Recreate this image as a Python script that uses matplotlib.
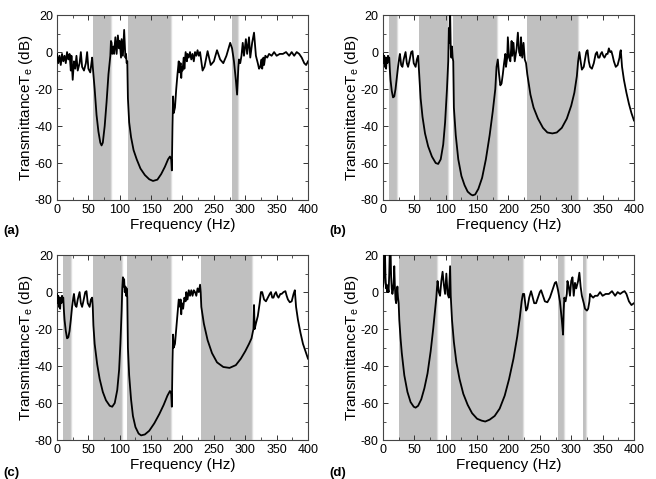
import matplotlib
matplotlib.use('Agg')
import matplotlib.pyplot as plt
from matplotlib.ticker import MultipleLocator

plt.rcParams['font.family'] = ['Liberation Sans', 'DejaVu Sans']
plt.rcParams['mathtext.fontset'] = 'custom'
plt.rcParams['mathtext.rm'] = 'Liberation Sans'
plt.rcParams['axes.unicode_minus'] = False

# band gaps (Hz), read from the shaded regions
bands_a = [(58, 86), (113, 181), (279, 289)]
bands_b = [(10, 22), (58, 103), (112, 181), (229, 311)]
bands_c = [(10, 22), (58, 103), (112, 182), (229, 311)]
bands_d = [(26, 86), (109, 223), (279, 289), (318, 324)]

# transmittance curves (freq Hz, dB)
freq_a = [0, 2, 4, 6, 8, 10, 12, 14, 16, 18, 20, 22, 23, 25, 27, 29, 31, 33, 36, 38, 40, 43, 46, 48,
          50, 53, 56, 57, 60, 63, 66, 69, 71, 73, 76, 79, 82, 85, 86, 87, 88, 90, 91, 93, 95, 97,
          99, 100, 102, 103, 105, 107, 109, 110, 111, 112, 113, 115, 118, 122, 127, 133, 140, 147,
          153, 160, 166, 172, 177, 180, 182, 183, 184, 185, 186, 188, 190, 192, 194, 195, 197, 198,
          199, 200, 202, 203, 205, 207, 208, 210, 212, 214, 216, 218, 220, 222, 224, 226, 228, 232,
          235, 240, 245, 250, 255, 260, 265, 270, 276, 279, 282, 285, 287, 289, 290, 292, 294, 296,
          298, 301, 303, 306, 308, 311, 314, 317, 320, 322, 324, 326, 327, 329, 330, 332, 335, 338,
          342, 346, 350, 355, 360, 365, 370, 374, 378, 382, 386, 390, 394, 397, 400]
trans_a = [-1, -6, -2, -7, -1, -5, -2, -6, 0, -4, -1, -10, -2, -15, -5, -9, -2, -10, -6, 0, -8, -10, -6, 0,
           -9, -11, -3, -8, -20, -34, -43, -49, -50.5, -49, -40, -27, -12, -2, 6, 5, -1, 3, -1, 8, -1, 9,
           2, 6, -3, 7, -2, 12, -3, -1, -6, -5, -25, -38, -46, -53, -58, -63, -66.5, -68.8,
           -69.7, -69, -66, -62, -58, -56.5, -58, -64, -40, -24, -33, -30, -20, -12, -5, -11, -6, -14,
           -8, -10, -3, -9, 0, -5, -1, -3, 0, -4, -1, -5, 0, -2, 1, -2, 0, -10,
           -8, 0.5, -7, -5, 1, -4, -6, -2, 5, 2, -5, -15, -23, -8, -4, -6, -2, 5,
           -2, 7, -1, 8, -3, 5, 10.5, -2, -6, -9, -8, -4, -9, -3, -7, -2, -3, -1,
           -2, 0, -2, -1, -1, 0, -2, 0, -2, 0, -1, -3, -6, -7, -5]

freq_b = [0, 1, 2, 3, 4, 5, 6, 7, 8, 9, 10, 11, 12, 14, 16, 18, 20, 22, 24, 26, 27, 29, 31, 33, 36, 38,
          40, 42, 45, 47, 49, 52, 54, 56, 57, 58, 60, 63, 67, 72, 78, 84, 88, 92, 96, 99, 102, 104,
          105, 106, 107, 108, 109, 110, 111, 112, 113, 116, 120, 125, 130, 135, 140, 143, 147, 152,
          158, 164, 170, 175, 179, 181, 183, 185, 187, 189, 191, 193, 195, 196, 198, 199, 201, 203,
          205, 206, 208, 210, 213, 215, 217, 219, 220, 222, 224, 226, 228, 230, 235, 240, 247, 255,
          262, 270, 277, 285, 293, 300, 305, 309, 311, 313, 315, 317, 320, 322, 324, 326, 328, 330,
          333, 336, 339, 341, 343, 345, 347, 349, 351, 353, 356, 358, 360, 362, 364, 366, 368, 371,
          374, 377, 378, 379, 381, 384, 388, 392, 396, 400]
trans_b = [-1, -6, -2, -8, -3, -9, -3, -6, -2, -4, -3, -10, -15, -21, -24.5, -24, -20, -14, -8, -3, -1, -7, -8, -4, 0, -6,
           -8, -5, 0, 0.5, -6, -8, -4, -2, -8, -15, -25, -35, -44, -51, -56.5, -60, -60.5, -58, -50, -38, -20, -5,
           13, 5, 22, 2, -3, 3, -3, -5, -30, -45, -58, -67, -72, -75.5, -77, -77.5, -77, -74,
           -68, -58, -45, -32, -20, -8, -4, -12, -18, -17, -12, -6, -1, -8, -3, 8, -3, -5,
           6, -2, 5, -5, 2, 10.5, 0, -2, 8, -3, 5, -4, -6, -12, -23, -30, -36, -41,
           -43.5, -44, -43.5, -41, -36, -29, -22, -13, -5, 0, -5, -9.5, -8, -4, 0, 1, -5, -8,
           -9, -6, -1, 0, -3, -3, -1, 0, -2, -3, -1, -1, 2, 0, 0.5, -2, -5, -8,
           -7, -3, 0, 1, -8, -15, -22, -28, -33, -37]

freq_c = [0, 1, 2, 3, 4, 5, 6, 7, 8, 9, 10, 11, 12, 14, 16, 18, 20, 22, 24, 26, 27, 29, 31, 33, 36, 38,
          40, 42, 45, 47, 49, 52, 54, 56, 57, 58, 60, 64, 68, 73, 78, 84, 88, 92, 96, 99, 101, 103,
          104, 105, 106, 107, 108, 109, 110, 111, 112, 113, 115, 118, 121, 125, 130, 134, 140, 147,
          155, 163, 170, 176, 180, 182, 183, 184, 185, 186, 188, 190, 192, 194, 196, 197, 198, 199,
          201, 203, 205, 206, 208, 210, 212, 214, 216, 218, 220, 222, 224, 226, 228, 229, 230, 234,
          240, 247, 255, 265, 275, 285, 293, 300, 306, 310, 313, 314, 315, 317, 320, 323, 325, 327,
          330, 333, 336, 339, 341, 343, 345, 347, 349, 351, 353, 356, 358, 361, 364, 366, 368, 371,
          374, 377, 378, 379, 381, 384, 388, 392, 396, 400]
trans_c = [-1, -6, -2, -8, -3, -9, -3, -6, -2, -4, -3, -10, -15, -21, -25, -24.5, -21, -15, -8, -3, -1, -7, -8, -4, 0, -6,
           -8, -5, 0, 0.5, -6, -8, -4, -3, -8, -18, -28, -39, -47, -54, -58.5, -61.5, -62, -60, -53, -42, -28, -10,
           2, 8, 3, 7, 0, 3, -2, 2, -3, -30, -45, -58, -67, -73, -76.5, -77.5, -77, -75,
           -71, -66, -61, -56, -53.5, -55, -62, -38, -23, -30, -28, -20, -12, -4, -8, -4, -12, -6,
           -9, -3, -5, 0, -4, 1, -2, 1, -2, 1, 0, -2, 2, 0, 4, 0, -8, -17,
           -26, -33, -38, -40.5, -41, -39.5, -36, -32, -28, -25, -20, -7, -20, -17, -13, -6, 0, 0,
           -4, -5, -3, -1, 0, -3, -3, -1, 0, -2, -3, -1, -1, 0, 0.5, -2, -4, -5.5,
           -5, -1, 0, 1, -8, -15, -22, -28, -32, -36]

freq_d = [0, 1, 2, 3, 4, 5, 6, 7, 8, 9, 10, 11, 12, 13, 14, 15, 16, 17, 18, 19, 20, 21, 22, 23, 24,
          25, 26, 28, 30, 34, 39, 44, 49, 52, 56, 61, 66, 71, 76, 80, 83, 85, 86, 87, 89, 91, 93, 95,
          97, 99, 101, 103, 105, 107, 108, 110, 113, 117, 122, 128, 135, 142, 150, 157, 163, 170,
          178, 186, 194, 201, 208, 214, 218, 221, 223, 225, 228, 230, 233, 236, 238, 241, 244, 247,
          250, 252, 255, 258, 262, 266, 270, 274, 276, 279, 282, 285, 287, 288, 289, 291, 293, 294,
          296, 298, 300, 302, 304, 306, 308, 311, 313, 315, 317, 320, 322, 325, 327, 329, 330, 332,
          335, 338, 342, 346, 350, 355, 360, 365, 370, 374, 378, 382, 385, 388, 392, 396, 400]
trans_d = [3, 5, 22, 25, 8, 2, 4, 0, 2, 0, 10, 25, 25, 8, 2, -1, 1, 5, 14, 3, -4, -6, -2, 3, -3,
           -6, -15, -25, -33, -45, -54, -59.5, -62, -62.5, -61.5, -58, -52, -44, -32, -20, -10, -3, 2, 6, 0, -2, 6, 11,
           4, -1, 10, -1, -3, 14, -2, -15, -27, -38, -47, -55, -61, -65.5, -68.5, -69.5, -70, -69,
           -67, -63, -56, -47, -36, -24, -14, -5, -1, -1, -10, -9, -3, 0.5, -2, -6, -6, -3,
           0, 1, -2, -5, -5.5, -3, 1, 5, 5.5, 1, -5, -15, -23, -10, -3, -5, -1, 6,
           3, -2, 6, 8, -2, 5, 2, 6, 10.5, 3, -2, -6, -9, -10, -9, -5, -1, -2,
           -3, -2, -2, 0, -2, -1, -1, 0.5, -2, 0, -1, 0, 0.5, -1, -5, -7, -6]

panels = [
    ('(a)', freq_a, trans_a, bands_a),
    ('(b)', freq_b, trans_b, bands_b),
    ('(c)', freq_c, trans_c, bands_c),
    ('(d)', freq_d, trans_d, bands_d),
]

# axes boxes in figure fractions
boxes = [
    [0.0869, 0.5825, 0.3826, 0.386],
    [0.5838, 0.5825, 0.3826, 0.386],
    [0.0869, 0.0814, 0.3826, 0.386],
    [0.5838, 0.0814, 0.3826, 0.386],
]
label_pos = [(0.005, 0.512), (0.502, 0.512), (0.005, 0.006), (0.502, 0.006)]


def draw_panel(ax, freq, trans, bands):
    for lo, hi in bands:
        ax.axvspan(lo, hi, color='#c0c0c0', lw=0, zorder=1)
        ax.axvline(hi, color='#dedede', lw=1.0, zorder=1)
    ax.plot(freq, trans, color='black', lw=1.3, zorder=3)
    ax.set_xlim(0, 400)
    ax.set_ylim(-80, 20)
    ax.xaxis.set_major_locator(MultipleLocator(50))
    ax.xaxis.set_minor_locator(MultipleLocator(25))
    ax.yaxis.set_major_locator(MultipleLocator(20))
    ax.yaxis.set_minor_locator(MultipleLocator(10))
    ax.tick_params(which='both', direction='in', top=True, right=True, labelsize=9,
                   pad=3, color='#333333')
    ax.tick_params(which='major', length=3.5, width=0.7)
    ax.tick_params(which='minor', length=2, width=0.6)
    for sp in ax.spines.values():
        sp.set_color('#444444')
        sp.set_linewidth(0.8)
    ax.set_xlabel('Frequency (Hz)', fontsize=11, labelpad=1)
    ax.set_ylabel(r'TransmittanceT$_\mathregular{e}$ (dB)', fontsize=11, labelpad=0)


fig = plt.figure(figsize=(6.56, 4.79), dpi=100)
for (tag, freq, trans, bands), box, lp in zip(panels, boxes, label_pos):
    ax = fig.add_axes(box)
    draw_panel(ax, freq, trans, bands)
    fig.text(lp[0], lp[1], tag, fontsize=9.5, fontweight='bold')

fig.savefig('out.png', dpi=100)
